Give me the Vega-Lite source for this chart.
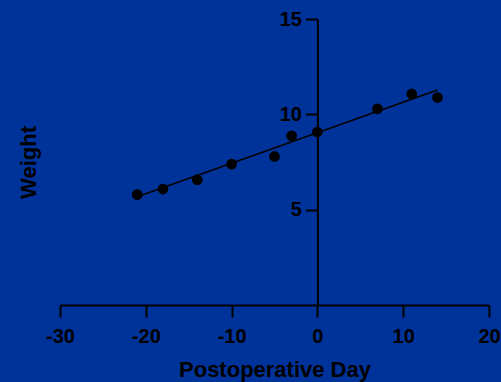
{
  "$schema": "https://vega.github.io/schema/vega-lite/v6.json",
  "width": 429,
  "height": 286,
  "autosize": {"type": "none"},
  "padding": {"left": 60, "top": 19, "right": 12, "bottom": 77},
  "background": "#003399",
  "config": {
    "view": {"stroke": null},
    "font": "Liberation Sans"
  },
  "datasets": {
    "points": [
      {"day": -21, "weight": 5.79},
      {"day": -18, "weight": 6.08},
      {"day": -14, "weight": 6.57},
      {"day": -10, "weight": 7.39},
      {"day": -5, "weight": 7.79},
      {"day": -3, "weight": 8.87},
      {"day": 0, "weight": 9.07},
      {"day": 7, "weight": 10.29},
      {"day": 11, "weight": 11.07},
      {"day": 14, "weight": 10.88}
    ],
    "fit": [
      {"day": -21, "weight": 5.68},
      {"day": 14, "weight": 11.28}
    ]
  },
  "layer": [
    {
      "data": {"name": "fit"},
      "mark": {"type": "line", "color": "black", "strokeWidth": 1.5},
      "encoding": {
        "x": {
          "field": "day", "type": "quantitative",
          "scale": {"domain": [-30, 20], "nice": false, "zero": false},
          "axis": {
            "title": "Postoperative Day",
            "values": [-30, -20, -10, 0, 10, 20],
            "labelExpr": "toString(datum.value)",
            "grid": false,
            "domainColor": "black", "domainWidth": 2,
            "tickColor": "black", "tickWidth": 2, "tickSize": 12,
            "labelColor": "black", "labelFont": "Liberation Sans", "labelFontSize": 20, "labelFontWeight": "bold",
            "labelPadding": 9, "labelFlush": false, "labelOverlap": false,
            "titleColor": "black", "titleFont": "Liberation Sans", "titleFontSize": 22, "titleFontWeight": "bold",
            "titlePadding": 13
          }
        },
        "y": {
          "field": "weight", "type": "quantitative",
          "scale": {"domain": [0, 15], "nice": false},
          "axis": {
            "title": "Weight",
            "values": [5, 10, 15],
            "offset": -257.4,
            "grid": false,
            "domainColor": "black", "domainWidth": 2,
            "tickColor": "black", "tickWidth": 2, "tickSize": 12,
            "labelColor": "black", "labelFont": "Liberation Sans", "labelFontSize": 20, "labelFontWeight": "bold",
            "labelPadding": 4, "labelFlush": false,
            "titleColor": "black", "titleFont": "Liberation Sans", "titleFontSize": 22, "titleFontWeight": "bold",
            "titleX": -277, "titleY": 143, "titleBaseline": "bottom", "titleAngle": -90
          }
        }
      }
    },
    {
      "data": {"name": "points"},
      "mark": {"type": "circle", "color": "black", "opacity": 1, "size": 115},
      "encoding": {
        "x": {"field": "day", "type": "quantitative"},
        "y": {"field": "weight", "type": "quantitative"}
      }
    }
  ]
}
